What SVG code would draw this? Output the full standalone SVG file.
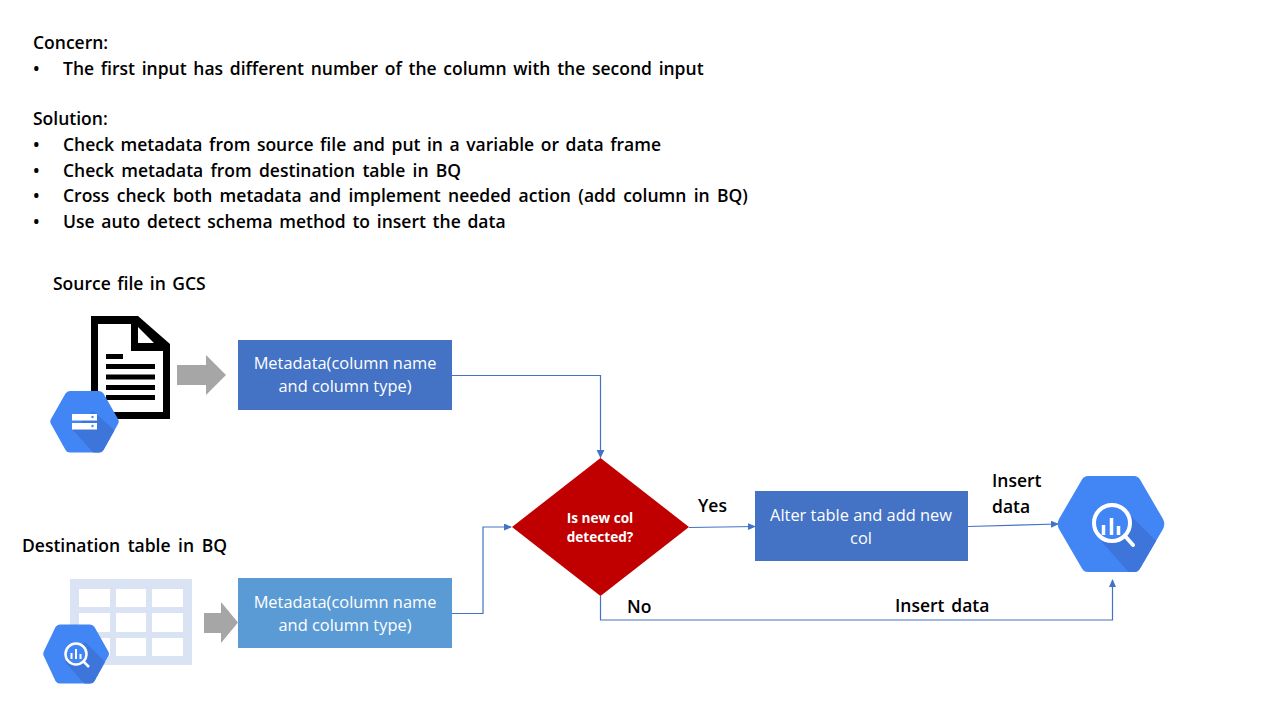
<svg xmlns="http://www.w3.org/2000/svg" width="1280" height="720" viewBox="0 0 1280 720">
<style>
text{font-family:"Open Sans","Noto Sans","Liberation Sans",sans-serif}
.t{font-size:17.5px;font-weight:600;fill:#000;word-spacing:2.2px}
.w{font-size:16.4px;fill:#fff;text-anchor:middle}
.d{font-size:13.6px;font-weight:700;fill:#fff;text-anchor:middle}
.c{fill:none;stroke:#4472c4;stroke-width:1.2}
.gc{fill:#a6a6a6}
.hb{fill:#4285f4}
.hd{fill:#3e75da}
</style>
<defs>
<marker id="a" markerWidth="8" markerHeight="8" refX="7" refY="3.5" orient="auto" markerUnits="userSpaceOnUse"><path d="M0 0L8 3.5L0 7Z" fill="#4472c4"/></marker>
<marker id="a2" markerWidth="9" markerHeight="8" refX="8" refY="4" orient="auto" markerUnits="userSpaceOnUse"><path d="M0 0L8 4L0 8Z" fill="#4472c4"/></marker>
<clipPath id="hexGcs"><path d="M70 391H99Q102 391 103.500 393.500L118 419Q119.500 421.500 118 424L103.500 450Q102 452.500 99 452.500H70Q67 452.500 65.500 450L51 424Q49.500 421.500 51 419L65.500 393.500Q67 391 70 391Z"/></clipPath>
<clipPath id="hexSm"><path d="M60 624.500H90Q93 624.500 94.500 627L108 651Q110 654 108 656.500L94.500 681Q93 683.500 90 683.500H60Q57 683.500 55.500 681L44 656.500Q42.500 654 44 651L55.500 627Q57 624.500 60 624.500Z"/></clipPath>
<clipPath id="hexLg"><path d="M1088 476H1134Q1138 476 1140 479.500L1163 519Q1165.500 524 1163 529L1140 568.500Q1138 572 1134 572H1088Q1084 572 1082 568.500L1059 529Q1056.500 524 1059 519L1082 479.500Q1084 476 1088 476Z"/></clipPath>
</defs>
<rect width="1280" height="720" fill="#fff"/>
<g id="notes" class="t">
<text x="33" y="49">Concern:</text>
<text x="33" y="75">•</text><text x="63" y="75" style="word-spacing:2.15px">The first input has different number of the column with the second input</text>
<text x="33" y="125">Solution:</text>
<text x="33" y="151">•</text><text x="63" y="151" style="word-spacing:2px">Check metadata from source file and put in a variable or data frame</text>
<text x="33" y="177">•</text><text x="63" y="177" style="word-spacing:2.7px">Check metadata from destination table in BQ</text>
<text x="33" y="202">•</text><text x="63" y="202" style="word-spacing:2.8px">Cross check both metadata and implement needed action (add column in BQ)</text>
<text x="33" y="228">•</text><text x="63" y="228" style="word-spacing:2.2px">Use auto detect schema method to insert the data</text>
</g>
<g id="connectors">
<path class="c" d="M452 375.500H600.500V458" marker-end="url(#a2)"/>
<path class="c" d="M452 613.500H483V527H511" marker-end="url(#a)"/>
<path class="c" d="M689 527.500L755 526.500" marker-end="url(#a)"/>
<path class="c" d="M968 526.500L1058 524" marker-end="url(#a)"/>
<path class="c" d="M600.500 596V620H1112.500V580" marker-end="url(#a)"/>
</g>
<g id="source-label"><text class="t" x="53" y="290" style="word-spacing:1.9px">Source file in GCS</text></g>
<g id="source-file">
<path d="M91 316H138L170 344V419H91Z" fill="#000"/>
<path d="M98 324H131V351H163V412H98Z" fill="#fff"/>
<path d="M138 327L154 343H138Z" fill="#fff"/>
<g fill="#000"><rect x="106" y="354" width="17" height="5"/><rect x="106" y="364" width="49" height="5"/><rect x="106" y="374.500" width="49" height="5"/><rect x="106" y="385" width="49" height="5"/><rect x="106" y="395" width="49" height="5"/></g>
</g>
<g id="gcs-icon">
<rect class="hb" x="49" y="390" width="72" height="64" clip-path="url(#hexGcs)"/>
<path class="hd" d="M93 411L125 440L100 460L73 430Z" clip-path="url(#hexGcs)"/>
<rect x="72" y="414" width="25" height="6.500" fill="#fff"/><rect x="72" y="423" width="25" height="6.500" fill="#fff"/>
<circle cx="92.500" cy="417" r="1.200" fill="#4285f4"/><circle cx="92.500" cy="426" r="1.200" fill="#4285f4"/>
</g>
<g id="arrow-1"><path class="gc" d="M177 365H206V355L226 375L206 395V385H177Z"/></g>
<g id="meta-1"><rect x="238" y="340" width="214" height="70" fill="#4472c4"/><text class="w" x="345" y="369">Metadata(column name</text><text class="w" x="345" y="392">and column type)</text></g>
<g id="dest-label"><text class="t" x="22" y="552" style="word-spacing:3px">Destination table in BQ</text></g>
<g id="table-icon">
<rect x="70" y="579" width="122" height="86" fill="#dae3f3"/>
<g fill="#fff"><rect x="79" y="589" width="31" height="18"/><rect x="116" y="589" width="30" height="18"/><rect x="152" y="589" width="31" height="18"/><rect x="79" y="613" width="31" height="19"/><rect x="116" y="613" width="30" height="19"/><rect x="152" y="613" width="31" height="19"/><rect x="79" y="638" width="31" height="18"/><rect x="116" y="638" width="30" height="18"/><rect x="152" y="638" width="31" height="18"/></g>
</g>
<g id="bq-small">
<rect class="hb" x="42" y="623" width="69" height="62" clip-path="url(#hexSm)"/>
<path class="hd" d="M85 642L115 672L92 692L65 662Z" clip-path="url(#hexSm)"/>
<circle cx="76" cy="654" r="10.500" fill="#4285f4" stroke="#fff" stroke-width="2.500"/>
<path d="M83.500 661.500L89 667" stroke="#fff" stroke-width="2.500"/>
<path d="M71.500 653v6M76 649v10M80.500 654v5" stroke="#fff" stroke-width="2"/>
</g>
<g id="arrow-2"><path class="gc" d="M204 613H221V602L238 622.500L221 643V633H204Z"/></g>
<g id="meta-2"><rect x="238" y="578" width="214" height="70" fill="#5b9bd5"/><text class="w" x="345" y="608">Metadata(column name</text><text class="w" x="345" y="631">and column type)</text></g>
<g id="decision"><path d="M600.500 458L689 527L600.500 596L512 527Z" fill="#c00000"/>
<text class="d" x="600" y="523">Is new col</text>
<text class="d" x="600" y="541.500">detected?</text></g>
<g id="yes-label"><text class="t" x="698" y="512">Yes</text></g>
<g id="no-label"><text class="t" x="627" y="613">No</text></g>
<g id="alter"><rect x="755" y="491" width="213" height="70" fill="#4472c4"/><text class="w" x="861" y="521">Alter table and add new</text><text class="w" x="861" y="544">col</text></g>
<g id="insert-label-1"><text class="t" x="992" y="487">Insert</text><text class="t" x="992" y="513">data</text></g>
<g id="insert-label-2"><text class="t" x="895" y="612">Insert data</text></g>
<g id="bq-large">
<rect class="hb" x="1055" y="474" width="112" height="100" clip-path="url(#hexLg)"/>
<path class="hd" d="M1130 515L1175 560L1140 585L1102 542Z" clip-path="url(#hexLg)"/>
<circle cx="1112" cy="523" r="18" fill="#4285f4" stroke="#fff" stroke-width="4"/>
<path d="M1125 536L1133 545" stroke="#fff" stroke-width="4" stroke-linecap="round"/>
<path d="M1103.500 525v10M1111.500 518v17M1118.500 526v9" stroke="#fff" stroke-width="3.500"/>
</g>
</svg>
